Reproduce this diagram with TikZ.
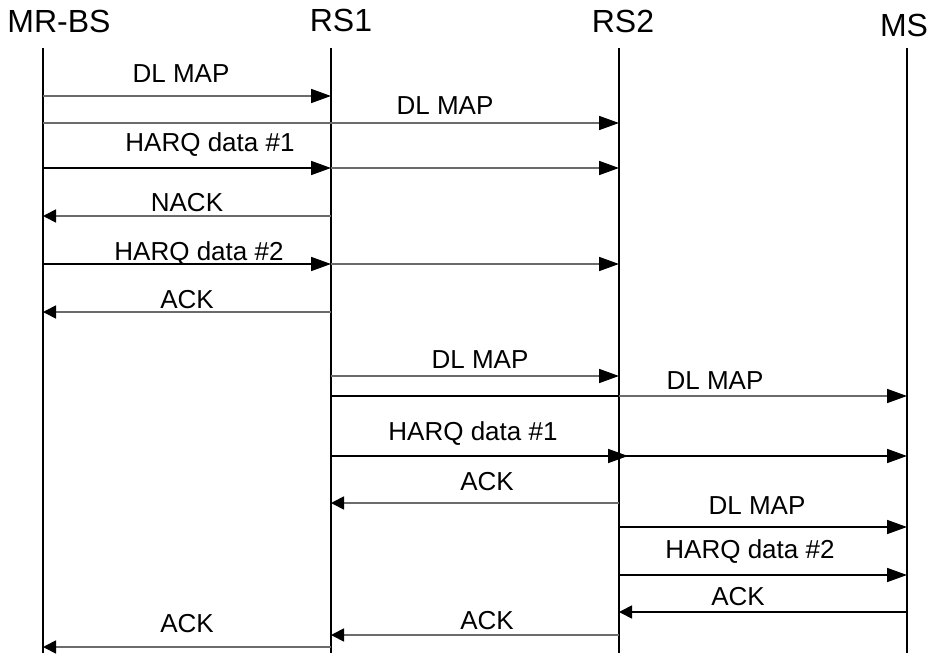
\documentclass[tikz,border=0pt]{standalone}
\usepackage{fontspec}
\setmainfont{Liberation Sans}
\usetikzlibrary{arrows.meta}
\tikzset{
head/.style={font=\fontsize{32}{38}\selectfont,inner sep=0pt,anchor=base},
lbl/.style={font=\fontsize{26}{31}\selectfont,inner sep=0pt,anchor=base},
life/.style={line width=2pt,black},
sendr/.style={-{Triangle[length=20pt,width=14pt,color=black]}},
sendl/.style={-{Triangle[length=13pt,width=13pt,color=black]}},
msgk/.style={line width=1.7pt,black},
msgg/.style={line width=1.7pt,black!58}
}

\begin{document}
\begin{tikzpicture}[x=1pt,y=-1pt]
\useasboundingbox (0,0) rectangle (929,655);
% heads and lifelines
\node[head] (hbs) at (59,33) {MR-BS};
\node[head] (hrs1) at (341,32) {RS1};
\node[head] (hrs2) at (623,33) {RS2};
\node[head] (hms) at (904,37) {MS};
\coordinate (bs) at (43,48);
\coordinate (rs1) at (331,48);
\coordinate (rs2) at (619,48);
\coordinate (ms) at (907,48);
\draw[life] (bs) -- (bs |- 0,653);
\draw[life] (rs1) -- (rs1 |- 0,653);
\draw[life] (rs2) -- (rs2 |- 0,653);
\draw[life] (ms) -- (ms |- 0,653);
% first hop: MR-BS
\draw[msgg,sendr] (bs |- 0,96) -- (rs1 |- 0,96);
\node[lbl] (m1) at (181,83) {DL MAP};
\draw[msgg,sendr] (bs |- 0,123) -- (rs2 |- 0,123);
\node[lbl] (m2) at (445,115) {DL MAP};
\draw[msgk,sendr] (bs |- 0,168) -- (rs1 |- 0,168);
\draw[msgg,sendr] (rs1 |- 0,168) -- (rs2 |- 0,168);
\node[lbl] (m3) at (210,152) {HARQ data \#1};
\draw[msgg,sendl] (rs1 |- 0,216) -- (bs |- 0,216);
\node[lbl] (m4) at (187,212) {NACK};
\draw[msgk,sendr] (bs |- 0,264) -- (rs1 |- 0,264);
\draw[msgg,sendr] (rs1 |- 0,264) -- (rs2 |- 0,264);
\node[lbl] (m5) at (199,261) {HARQ data \#2};
\draw[msgg,sendl] (rs1 |- 0,312) -- (bs |- 0,312);
\node[lbl] (m6) at (187,308) {ACK};
% second hop: RS1
\draw[msgg,sendr] (rs1 |- 0,376) -- (rs2 |- 0,376);
\node[lbl] (m7) at (480,368) {DL MAP};
\draw[msgk] (rs1 |- 0,396) -- (rs2 |- 0,396);
\draw[msgg,sendr] (rs2 |- 0,396) -- (ms |- 0,396);
\node[lbl] (m8) at (715,389) {DL MAP};
\draw[msgk,sendr] (rs1 |- 0,456) -- (628,456);
\draw[msgk,sendr] (rs2 |- 0,456) -- (ms |- 0,456);
\node[lbl] (m9) at (473,440) {HARQ data \#1};
\draw[msgg,sendl] (rs2 |- 0,503) -- (rs1 |- 0,503);
\node[lbl] (m10) at (487,490) {ACK};
% third hop: RS2
\draw[msgk,sendr] (rs2 |- 0,527) -- (ms |- 0,527);
\node[lbl] (m11) at (757,514) {DL MAP};
\draw[msgk,sendr] (rs2 |- 0,575) -- (ms |- 0,575);
\node[lbl] (m12) at (750,558) {HARQ data \#2};
\draw[msgk,sendl] (ms |- 0,612) -- (rs2 |- 0,612);
\node[lbl] (m13) at (738,605) {ACK};
\draw[msgg,sendl] (rs2 |- 0,635) -- (rs1 |- 0,635);
\node[lbl] (m14) at (487,629) {ACK};
\draw[msgg,sendl] (rs1 |- 0,647) -- (bs |- 0,647);
\node[lbl] (m15) at (187,632) {ACK};
\end{tikzpicture}
\end{document}
